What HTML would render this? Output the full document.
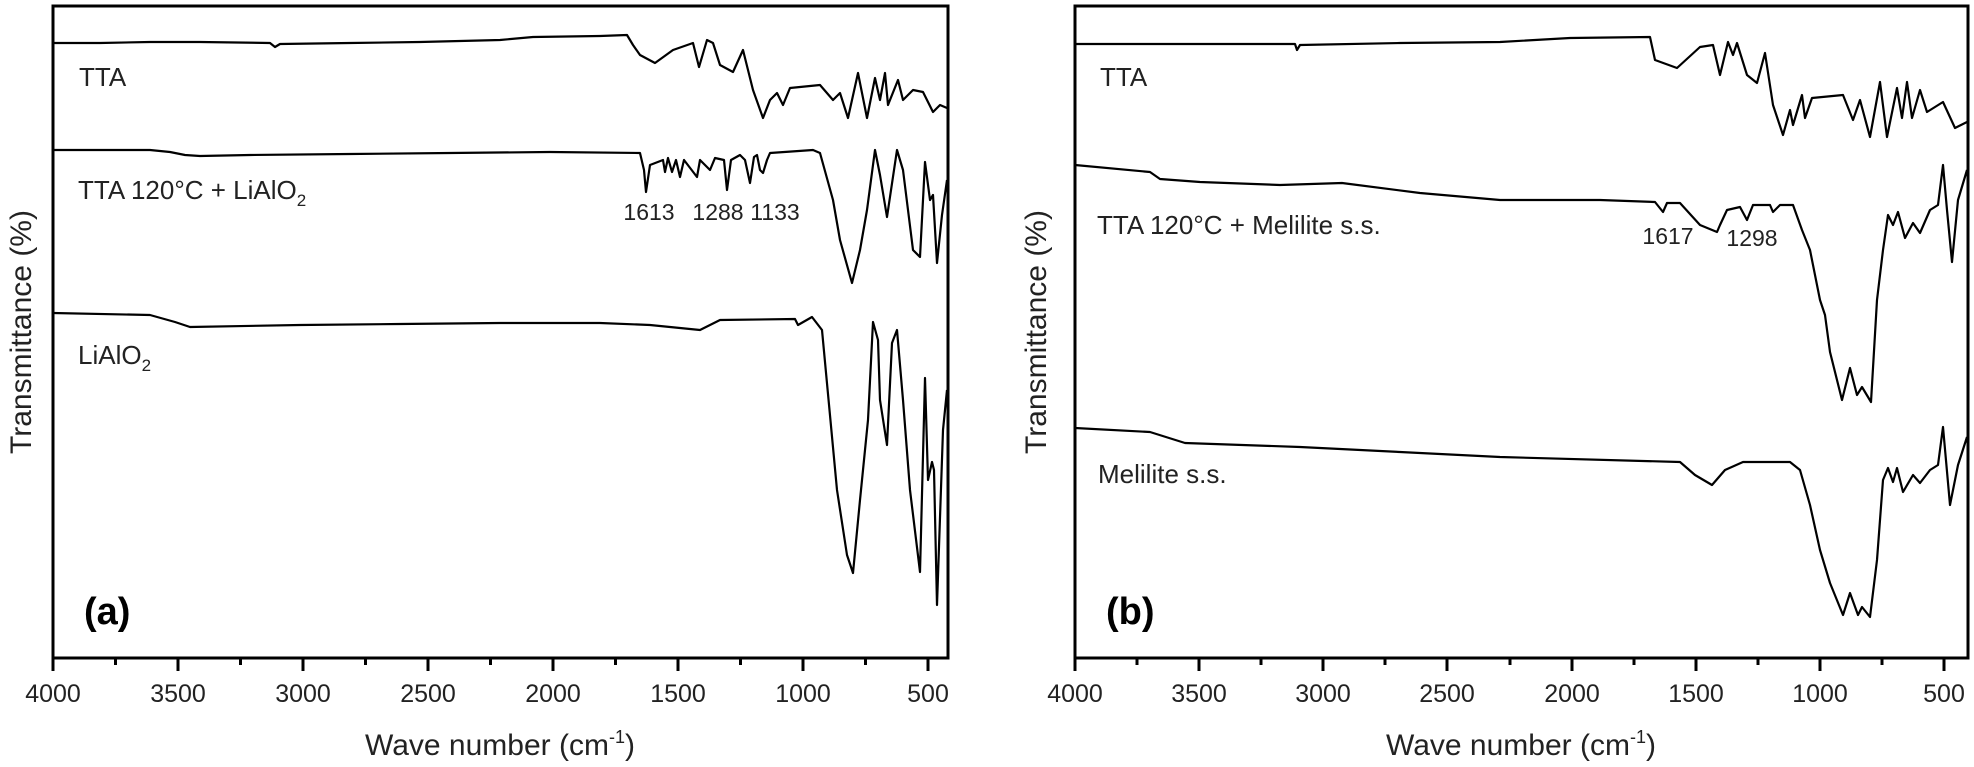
<!DOCTYPE html>
<html><head><meta charset="utf-8"><style>
html,body{margin:0;padding:0;background:#fff;}
svg{display:block;font-family:"Liberation Sans",Arial,sans-serif;}
</style></head><body>
<svg width="1974" height="767" viewBox="0 0 1974 767" xmlns="http://www.w3.org/2000/svg">
<g fill="none" stroke="#000" stroke-width="2.2" stroke-linejoin="round">
<polyline points="53,43 100,43 150,42 200,42 270,43 275,47 280,44 350,43 420,42 500,40 533,37 600,36 627,35 633,45 640,55 655,63 673,50 693,43 699,67 707,40 713,43 720,65 733,72 743,50 753,90 763,118 770,100 777,93 783,105 790,88 820,85 833,100 840,93 848,118 858,73 867,118 875,78 880,100 885,73 888,105 898,80 903,100 913,90 923,92 933,112 940,105 947,108"/>
<polyline points="53,150 150,150 170,152 185,155 200,156 250,155 350,154 450,153 550,152 640,153 644,170 646,192 650,165 663,160 665,172 668,158 672,172 676,160 680,177 684,160 697,177 700,160 710,170 715,158 724,160 727,190 731,160 740,155 745,160 750,183 754,157 757,155 760,170 763,173 767,160 770,153 813,150 820,153 833,200 840,240 852,283 860,250 867,210 875,150 880,175 887,217 897,150 903,170 913,250 920,257 925,162 930,200 933,195 937,263 942,215 947,180"/>
<polyline points="53,313 150,315 175,322 190,327 300,325 400,324 500,323 600,323 650,325 700,330 720,320 795,319 798,325 812,317 822,330 837,490 847,555 853,573 860,500 868,420 873,322 878,340 880,400 887,445 892,343 897,330 903,400 910,490 920,572 925,378 928,480 932,462 934,470 937,605 943,430 947,390"/>
<polyline points="1075,44 1200,44 1295,44 1297,50 1300,45 1400,43 1500,42 1570,38 1650,37 1655,60 1677,68 1700,47 1713,45 1720,75 1728,42 1733,55 1737,43 1747,75 1757,83 1765,53 1773,105 1783,135 1790,110 1793,125 1802,95 1805,118 1812,98 1843,95 1853,120 1860,100 1870,137 1880,82 1887,137 1897,88 1902,118 1907,82 1912,118 1920,90 1927,112 1943,102 1955,128 1967,122"/>
<polyline points="1075,165 1150,172 1160,179 1200,182 1280,185 1342,183 1420,193 1500,200 1600,200 1655,202 1663,212 1667,203 1680,203 1700,225 1717,232 1720,225 1727,210 1740,207 1747,220 1753,205 1770,205 1773,212 1780,205 1793,205 1802,230 1810,250 1820,300 1825,315 1830,352 1842,400 1850,368 1857,395 1862,387 1871,402 1877,300 1883,250 1888,215 1893,225 1898,212 1905,238 1913,223 1920,233 1930,210 1938,205 1943,165 1947,210 1952,262 1958,200 1967,170"/>
<polyline points="1075,428 1150,432 1185,443 1300,447 1400,452 1500,457 1680,462 1695,475 1712,485 1725,470 1743,462 1790,462 1800,470 1810,505 1820,550 1830,583 1843,615 1850,593 1858,615 1862,607 1870,617 1877,560 1883,480 1888,468 1893,482 1897,468 1903,492 1913,475 1920,483 1930,470 1938,465 1943,427 1950,505 1958,465 1967,437"/>
</g>
<g fill="none" stroke="#000" stroke-width="3">
<rect x="53" y="6" width="895" height="652"/>
<rect x="1075" y="6" width="893" height="652"/>
<path d="M53,658v13 M178,658v13 M303,658v13 M428,658v13 M553,658v13 M678,658v13 M803,658v13 M928,658v13
M115.5,658v7 M240.5,658v7 M365.5,658v7 M490.5,658v7 M615.5,658v7 M740.5,658v7 M865.5,658v7
M1075,658v13 M1199,658v13 M1323,658v13 M1447,658v13 M1572,658v13 M1696,658v13 M1820,658v13 M1944,658v13
M1137,658v7 M1261,658v7 M1385,658v7 M1510,658v7 M1634,658v7 M1758,658v7 M1882,658v7"/>
</g>
<g font-size="25" text-anchor="middle" fill="#222">
<text x="53" y="702">4000</text><text x="178" y="702">3500</text><text x="303" y="702">3000</text><text x="428" y="702">2500</text><text x="553" y="702">2000</text><text x="678" y="702">1500</text><text x="803" y="702">1000</text><text x="928" y="702">500</text>
<text x="1075" y="702">4000</text><text x="1199" y="702">3500</text><text x="1323" y="702">3000</text><text x="1447" y="702">2500</text><text x="1572" y="702">2000</text><text x="1696" y="702">1500</text><text x="1820" y="702">1000</text><text x="1944" y="702">500</text>
</g>
<g font-size="30" text-anchor="middle" fill="#222">
<text x="500" y="755">Wave number (cm<tspan font-size="18" dy="-12">-1</tspan><tspan dy="12">)</tspan></text>
<text x="1521" y="755">Wave number (cm<tspan font-size="18" dy="-12">-1</tspan><tspan dy="12">)</tspan></text>
<text transform="translate(31,332) rotate(-90)">Transmittance (%)</text>
<text transform="translate(1046,332) rotate(-90)">Transmittance (%)</text>
</g>
<g font-size="26" fill="#222">
<text x="79" y="86">TTA</text>
<text x="78" y="199">TTA 120°C + LiAlO<tspan font-size="17" dy="7">2</tspan></text>
<text x="78" y="364">LiAlO<tspan font-size="17" dy="7">2</tspan></text>
<text x="1100" y="86">TTA</text>
<text x="1097" y="234">TTA 120°C + Melilite s.s.</text>
<text x="1098" y="483">Melilite s.s.</text>
</g>
<g font-size="23" fill="#222" text-anchor="middle">
<text x="649" y="220">1613</text><text x="718" y="220">1288</text><text x="775" y="220">1133</text>
<text x="1668" y="244">1617</text><text x="1752" y="246">1298</text>
</g>
<g font-size="38" font-weight="bold" fill="#000">
<text x="84" y="624">(a)</text>
<text x="1106" y="624">(b)</text>
</g>
</svg>
</body></html>
